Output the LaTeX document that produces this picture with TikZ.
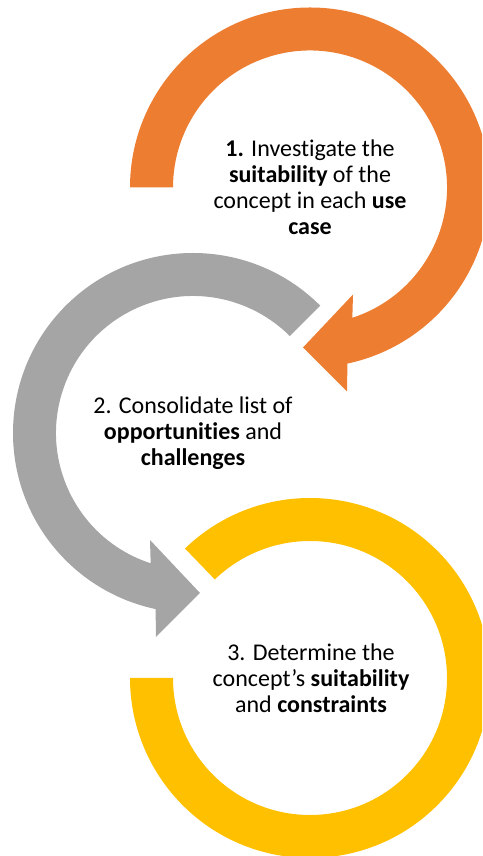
\documentclass[tikz,border=0pt]{standalone}
\usepackage{fontspec}
\setmainfont{Carlito}[Ligatures=NoCommon]

\definecolor{ringorange}{RGB}{237,125,49}
\definecolor{ringgray}{RGB}{165,165,165}
\definecolor{ringyellow}{RGB}{255,192,0}

% thick ring running clockwise from angle #2 round to the arrowhead near -90
\newcommand{\ringarrow}[2]{%
  \fill[#1] (#2:\Ro) arc[start angle=#2, end angle=-78, radius=\Ro]
    -- (37,-204) -- (-7,-160) -- (43,-107) -- (-72:\Ri)
    arc[start angle=-72, end angle=#2, radius=\Ri] -- cycle;
}

\begin{document}
\begin{tikzpicture}[
    x=1pt, y=1pt,
    steptext/.style={align=center, text=black,
      font=\fontsize{24}{26}\selectfont},
  ]

  % ------------------------------------------------------------------
  % ring radii (outer / inner edge of the band)
  % ------------------------------------------------------------------
  \def\Ro{180}
  \def\Ri{137}

  \clip (0,0) rectangle (482,856);

  % step 1: orange ring, flat end on the left, arrow points down-left
  \begin{scope}[shift={(310,668.5)}]
    \ringarrow{ringorange}{180}
  \end{scope}

  % step 2: gray ring, mirrored, flat end at upper right
  \begin{scope}[shift={(193,423)}, xscale=-1]
    \ringarrow{ringgray}{135}
  \end{scope}

  % step 3: yellow ring, no arrowhead, open on the upper left
  \begin{scope}[shift={(310,178)}]
    \fill[ringyellow] (134:\Ro) arc[start angle=134, end angle=-180, radius=\Ro]
      -- (180:\Ri) arc[start angle=-180, end angle=134, radius=\Ri] -- cycle;
  \end{scope}

  % ------------------------------------------------------------------
  % step texts, centred in their rings
  % ------------------------------------------------------------------
  \node[steptext] (stepone) at (310,668.5)
       {\textbf{1.} Investigate the\\ \textbf{suitability} of the\\
        concept in each \textbf{use}\\ \textbf{case}};
  \node[steptext] (steptwo) at (193,423)
       {2. Consolidate list of\\ \textbf{opportunities} and\\ \textbf{challenges}};
  \node[steptext] (stepthree) at (311,178)
       {3. Determine the\\ concept’s \textbf{suitability}\\ and \textbf{constraints}};

\end{tikzpicture}
\end{document}
